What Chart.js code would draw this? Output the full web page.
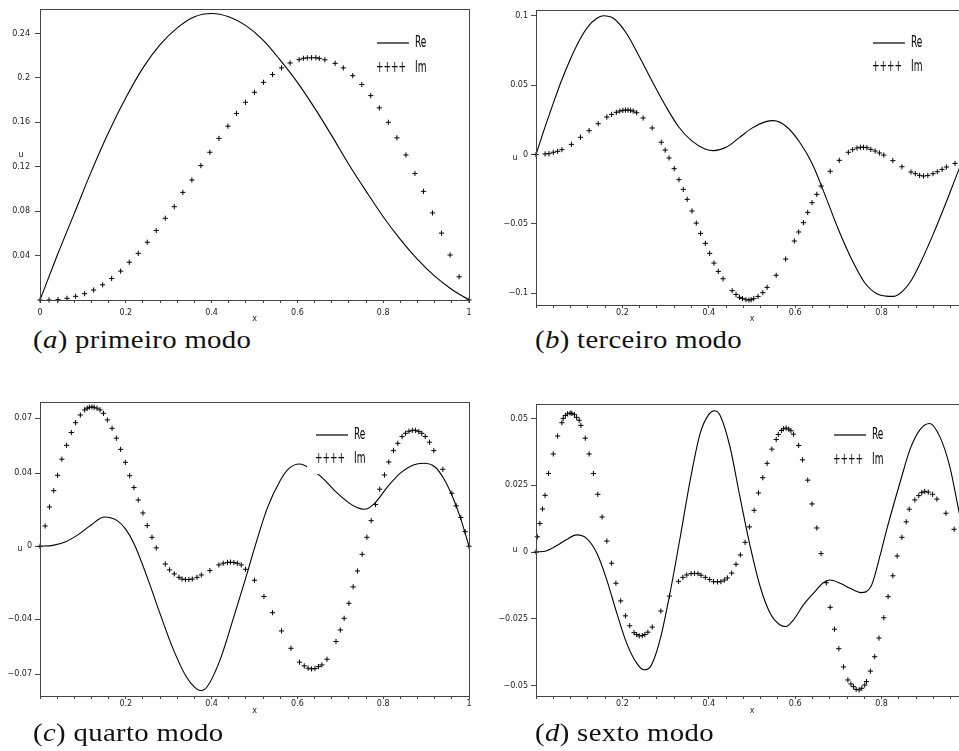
<!DOCTYPE html>
<html>
<head>
<meta charset="utf-8">
<script src="https://cdn.jsdelivr.net/npm/chart.js@4.4.0/dist/chart.umd.min.js"></script>
<style>
  html, body { margin: 0; padding: 0; background: #fff; overflow: hidden; }
  #page { position: relative; width: 959px; height: 751px; overflow: hidden; background: #fff; }
  #page canvas { position: absolute; }
  .caption { position: absolute; font-family: "Liberation Serif", serif; font-size: 25px; letter-spacing: 0.3px; line-height: 25px; color: #111; white-space: nowrap; transform: scaleX(1.15); transform-origin: left top; }
</style>
</head>
<body>
<div id="page">
  <canvas id="chartA" width="480" height="326" style="left:0;top:0"></canvas>
  <canvas id="chartB" width="500" height="326" style="left:480px;top:0"></canvas>
  <canvas id="chartC" width="480" height="346" style="left:0;top:380px"></canvas>
  <canvas id="chartD" width="500" height="346" style="left:480px;top:380px"></canvas>
  <div class="caption" style="left:33px;top:327px">(<i>a</i>) primeiro modo</div>
  <div class="caption" style="left:535px;top:327px">(<i>b</i>) terceiro modo</div>
  <div class="caption" style="left:33px;top:720px">(<i>c</i>) quarto modo</div>
  <div class="caption" style="left:535px;top:720px">(<i>d</i>) sexto modo</div>
</div>
<script>
// (a) primeiro modo
const reAx = [0, 0.04, 0.08, 0.12, 0.16, 0.2, 0.24, 0.28, 0.32, 0.36, 0.4, 0.44, 0.48, 0.52, 0.56, 0.6, 0.64, 0.68, 0.72, 0.76, 0.8, 0.84, 0.88, 0.92, 0.96, 1];
const reAy = [0, 0.040, 0.078, 0.116, 0.151, 0.182, 0.209, 0.230, 0.245, 0.255, 0.258, 0.255, 0.247, 0.234, 0.216, 0.196, 0.173, 0.148, 0.122, 0.098, 0.075, 0.0545, 0.0365, 0.0215, 0.0095, 0];
const imAx = [0, 0.021, 0.042, 0.063, 0.083, 0.104, 0.125, 0.146, 0.167, 0.188, 0.208, 0.229, 0.25, 0.271, 0.292, 0.313, 0.333, 0.354, 0.375, 0.396, 0.417, 0.438, 0.458, 0.479, 0.5, 0.521, 0.542, 0.563, 0.583, 0.604, 0.614, 0.623, 0.633, 0.643, 0.651, 0.664, 0.688, 0.707, 0.729, 0.75, 0.771, 0.791, 0.812, 0.832, 0.853, 0.874, 0.894, 0.915, 0.936, 0.956, 0.977, 1];
const imAy = [0, 0, 0.0003, 0.0015, 0.0033, 0.0057, 0.009, 0.0137, 0.0194, 0.026, 0.034, 0.042, 0.052, 0.0626, 0.0736, 0.084, 0.0969, 0.108, 0.121, 0.133, 0.1455, 0.1565, 0.168, 0.178, 0.187, 0.196, 0.203, 0.209, 0.2134, 0.2164, 0.2176, 0.218, 0.2181, 0.2181, 0.2175, 0.2163, 0.2131, 0.209, 0.202, 0.194, 0.184, 0.173, 0.160, 0.146, 0.1306, 0.1139, 0.0978, 0.0784, 0.0602, 0.0405, 0.0209, 0];

// (b) terceiro modo
const reBx = [0, 0.02, 0.04, 0.06, 0.08, 0.1, 0.12, 0.14, 0.156, 0.18, 0.21, 0.24, 0.27, 0.3, 0.33, 0.36, 0.39, 0.411, 0.44, 0.47, 0.5, 0.53, 0.55, 0.58, 0.61, 0.64, 0.67, 0.7, 0.73, 0.76, 0.79, 0.81, 0.828, 0.85, 0.87, 0.89, 0.92, 0.95, 0.98, 1];
const reBy = [0, 0.019, 0.037, 0.054, 0.069, 0.082, 0.092, 0.098, 0.100, 0.098, 0.087, 0.070, 0.052, 0.035, 0.020, 0.010, 0.0042, 0.0028, 0.0052, 0.012, 0.019, 0.0235, 0.0244, 0.020, 0.009, -0.007, -0.030, -0.054, -0.075, -0.092, -0.1005, -0.102, -0.1022, -0.098, -0.090, -0.078, -0.057, -0.034, -0.010, 0.004];
const imBx = [0, 0.021, 0.030, 0.040, 0.050, 0.060, 0.082, 0.103, 0.123, 0.144, 0.164, 0.175, 0.186, 0.194, 0.201, 0.207, 0.213, 0.219, 0.225, 0.233, 0.248, 0.269, 0.290, 0.299, 0.308, 0.320, 0.331, 0.341, 0.350, 0.361, 0.371, 0.381, 0.392, 0.402, 0.412, 0.422, 0.433, 0.454, 0.463, 0.471, 0.478, 0.486, 0.493, 0.498, 0.504, 0.514, 0.525, 0.535, 0.556, 0.578, 0.598, 0.608, 0.619, 0.629, 0.639, 0.650, 0.660, 0.681, 0.702, 0.723, 0.733, 0.743, 0.751, 0.758, 0.766, 0.775, 0.785, 0.795, 0.805, 0.826, 0.847, 0.868, 0.878, 0.888, 0.897, 0.907, 0.919, 0.929, 0.940, 0.950, 0.970, 1];
const imBy = [0, 0.0004, 0.0006, 0.0016, 0.0023, 0.0035, 0.0073, 0.0124, 0.0172, 0.0222, 0.0270, 0.0289, 0.0304, 0.0313, 0.0318, 0.0320, 0.0320, 0.0318, 0.0313, 0.0301, 0.0263, 0.0191, 0.0088, 0.0032, -0.0025, -0.0102, -0.0181, -0.0251, -0.0323, -0.0407, -0.0494, -0.0568, -0.0640, -0.0712, -0.0782, -0.0842, -0.0895, -0.0981, -0.1008, -0.1029, -0.1038, -0.1046, -0.1048, -0.1046, -0.1038, -0.1022, -0.0995, -0.0957, -0.0870, -0.0753, -0.0623, -0.0558, -0.0491, -0.0417, -0.0347, -0.0287, -0.0227, -0.0121, -0.0042, 0.0016, 0.0035, 0.0047, 0.0052, 0.0052, 0.0049, 0.0037, 0.0025, 0.0011, -0.0004, -0.0044, -0.0088, -0.0126, -0.0138, -0.0150, -0.0155, -0.0150, -0.0138, -0.0124, -0.0107, -0.0090, -0.0064, 0];

// (c) quarto modo
const reCx = [0, 0.03, 0.06, 0.09, 0.12, 0.15, 0.18, 0.2, 0.22, 0.25, 0.28, 0.31, 0.34, 0.36, 0.376, 0.39, 0.42, 0.45, 0.48, 0.5, 0.53, 0.56, 0.58, 0.605, 0.63, 0.66, 0.69, 0.72, 0.74, 0.756, 0.78, 0.81, 0.84, 0.87, 0.895, 0.92, 0.94, 0.96, 0.98, 1];
const reCy = [0, 0.0005, 0.0025, 0.0065, 0.0118, 0.016, 0.014, 0.0092, 0.001, -0.017, -0.037, -0.056, -0.071, -0.077, -0.0789, -0.0767, -0.062, -0.040, -0.017, -0.001, 0.021, 0.036, 0.0425, 0.045, 0.0425, 0.037, 0.0297, 0.0237, 0.021, 0.0202, 0.0235, 0.0325, 0.040, 0.0445, 0.0454, 0.0435, 0.0375, 0.028, 0.0155, 0];
const imCx = [0, 0.012, 0.022, 0.032, 0.041, 0.051, 0.062, 0.073, 0.083, 0.094, 0.104, 0.110, 0.115, 0.121, 0.126, 0.133, 0.140, 0.148, 0.157, 0.168, 0.178, 0.188, 0.199, 0.209, 0.219, 0.229, 0.240, 0.250, 0.261, 0.271, 0.292, 0.302, 0.313, 0.324, 0.331, 0.339, 0.347, 0.355, 0.366, 0.376, 0.396, 0.417, 0.427, 0.437, 0.444, 0.452, 0.460, 0.469, 0.479, 0.500, 0.522, 0.542, 0.563, 0.585, 0.605, 0.616, 0.625, 0.633, 0.641, 0.649, 0.657, 0.669, 0.690, 0.700, 0.709, 0.720, 0.730, 0.740, 0.751, 0.762, 0.772, 0.782, 0.792, 0.803, 0.813, 0.824, 0.834, 0.844, 0.852, 0.860, 0.868, 0.875, 0.883, 0.890, 0.898, 0.908, 0.918, 0.939, 0.960, 0.970, 0.981, 0.991, 1];
const imCy = [0, 0.0111, 0.0215, 0.0304, 0.0388, 0.0476, 0.0552, 0.0622, 0.0676, 0.0718, 0.0746, 0.0755, 0.0760, 0.0762, 0.0760, 0.0755, 0.0746, 0.0727, 0.0691, 0.0645, 0.0591, 0.0530, 0.0459, 0.0386, 0.0321, 0.0253, 0.0182, 0.0113, 0.0049, -0.0009, -0.0097, -0.0129, -0.0151, -0.0170, -0.0179, -0.0182, -0.0182, -0.0179, -0.0170, -0.0157, -0.0133, -0.0102, -0.0093, -0.0089, -0.0087, -0.0089, -0.0093, -0.0102, -0.0126, -0.0186, -0.0275, -0.0363, -0.0463, -0.0558, -0.0634, -0.0654, -0.0667, -0.0671, -0.0669, -0.0658, -0.0649, -0.0618, -0.0521, -0.0458, -0.0394, -0.0312, -0.0222, -0.0135, -0.0044, 0.0049, 0.0140, 0.0228, 0.0312, 0.0390, 0.0461, 0.0523, 0.0563, 0.0600, 0.0618, 0.0629, 0.0634, 0.0634, 0.0627, 0.0618, 0.0600, 0.0569, 0.0523, 0.0421, 0.0290, 0.0221, 0.0157, 0.0080, 0];

// (d) sexto modo
const reDx = [0, 0.025, 0.048, 0.071, 0.094, 0.117, 0.141, 0.164, 0.187, 0.21, 0.233, 0.25, 0.265, 0.287, 0.31, 0.334, 0.357, 0.38, 0.4, 0.413, 0.426, 0.449, 0.472, 0.496, 0.519, 0.542, 0.565, 0.578, 0.596, 0.619, 0.642, 0.665, 0.68, 0.704, 0.727, 0.752, 0.775, 0.797, 0.812, 0.843, 0.866, 0.889, 0.911, 0.935, 0.958, 0.98, 1];
const reDy = [0, 0.0005, 0.0024, 0.0047, 0.0064, 0.0051, -0.0005, -0.0105, -0.0229, -0.0342, -0.0416, -0.0441, -0.0429, -0.0329, -0.0155, 0.0057, 0.0269, 0.0444, 0.0515, 0.0529, 0.0512, 0.0394, 0.0207, 0.0020, -0.0130, -0.0229, -0.0273, -0.0279, -0.0254, -0.0198, -0.0155, -0.0115, -0.0105, -0.0117, -0.0136, -0.0152, -0.0130, -0.0010, 0.0085, 0.0262, 0.0385, 0.0458, 0.0481, 0.0431, 0.0319, 0.0145, 0];
const imDx = [0, 0.003, 0.009, 0.015, 0.021, 0.029, 0.040, 0.050, 0.060, 0.063, 0.068, 0.073, 0.079, 0.083, 0.089, 0.094, 0.100, 0.104, 0.114, 0.123, 0.133, 0.143, 0.153, 0.164, 0.175, 0.185, 0.196, 0.207, 0.217, 0.227, 0.233, 0.239, 0.246, 0.252, 0.259, 0.269, 0.289, 0.309, 0.330, 0.340, 0.349, 0.359, 0.367, 0.375, 0.382, 0.392, 0.402, 0.411, 0.420, 0.428, 0.436, 0.443, 0.453, 0.463, 0.473, 0.484, 0.494, 0.505, 0.515, 0.525, 0.535, 0.546, 0.556, 0.561, 0.568, 0.573, 0.579, 0.585, 0.590, 0.596, 0.608, 0.617, 0.629, 0.639, 0.650, 0.660, 0.672, 0.681, 0.691, 0.701, 0.712, 0.722, 0.729, 0.735, 0.741, 0.748, 0.754, 0.761, 0.765, 0.774, 0.784, 0.794, 0.805, 0.815, 0.826, 0.836, 0.847, 0.857, 0.864, 0.877, 0.886, 0.893, 0.900, 0.908, 0.918, 0.928, 0.949, 0.968, 1];
const imDy = [0, 0.0057, 0.0107, 0.0161, 0.0212, 0.0294, 0.0367, 0.0434, 0.0484, 0.0500, 0.0511, 0.0517, 0.0520, 0.0519, 0.0514, 0.0504, 0.0493, 0.0474, 0.0426, 0.0367, 0.0294, 0.0216, 0.0131, 0.0041, -0.0042, -0.0117, -0.0183, -0.0239, -0.0276, -0.0302, -0.0309, -0.0314, -0.0313, -0.0309, -0.0300, -0.0281, -0.0221, -0.0165, -0.0110, -0.0095, -0.0086, -0.0081, -0.0080, -0.0081, -0.0087, -0.0095, -0.0103, -0.0111, -0.0112, -0.0111, -0.0105, -0.0097, -0.0079, -0.0046, -0.0011, 0.0036, 0.0094, 0.0156, 0.0221, 0.0278, 0.0332, 0.0385, 0.0421, 0.0440, 0.0455, 0.0461, 0.0464, 0.0460, 0.0454, 0.0441, 0.0399, 0.0345, 0.0269, 0.0180, 0.0090, -0.0006, -0.0115, -0.0207, -0.0289, -0.0362, -0.0430, -0.0479, -0.0494, -0.0504, -0.0514, -0.0516, -0.0510, -0.0498, -0.0485, -0.0446, -0.0392, -0.0322, -0.0246, -0.0167, -0.0089, -0.0015, 0.0055, 0.0113, 0.0160, 0.0195, 0.0211, 0.0222, 0.0227, 0.0224, 0.0216, 0.0198, 0.0145, 0.0085, 0];

// ticks
const xTicks = [0, 0.04, 0.08, 0.12, 0.16, 0.2, 0.24, 0.28, 0.32, 0.36, 0.4, 0.44, 0.48, 0.52, 0.56, 0.6, 0.64, 0.68, 0.72, 0.76, 0.8, 0.84, 0.88, 0.92, 0.96, 1];
const xLabelValuesA = [0, 0.2, 0.4, 0.6, 0.8, 1];
const xLabelsA = ['0', '0.2', '0.4', '0.6', '0.8', '1'];
const xLabelValuesB = [0.2, 0.4, 0.6, 0.8];
const xLabelsB = ['0.2', '0.4', '0.6', '0.8'];
const xLabelValuesC = [0.2, 0.4, 0.6, 0.8, 1];
const xLabelsC = ['0.2', '0.4', '0.6', '0.8', '1'];
const yTicksA = [0.04, 0.08, 0.12, 0.16, 0.2, 0.24];
const yLabelsA = ['0.04', '0.08', '0.12', '0.16', '0.2', '0.24'];
const yTicksB = [-0.1, -0.05, 0, 0.05, 0.1];
const yLabelsB = ['\u22120.1', '\u22120.05', '0', '0.05', '0.1'];
const yTicksC = [-0.07, -0.04, 0, 0.04, 0.07];
const yLabelsC = ['\u22120.07', '\u22120.04', '0', '0.04', '0.07'];
const yTicksD = [-0.05, -0.025, 0, 0.025, 0.05];
const yLabelsD = ['\u22120.05', '\u22120.025', '0', '0.025', '0.05'];

const tickFont = { family: 'DejaVu Sans', size: 8, lineHeight: 1 };

function pairs(xs, ys) {
  return xs.map((x, i) => ({ x: x, y: ys[i] }));
}

function narrowText(ctx, text, x, y) {
  ctx.save();
  ctx.translate(x, y);
  ctx.scale(0.6, 1);
  ctx.fillText(text, 0, 0);
  ctx.restore();
}

const modeDecor = {
  id: 'modeDecor',
  afterDatasetsDraw(chart, args, o) {
    const ctx = chart.ctx;
    ctx.save();
    // legend box is opaque, like the original
    ctx.fillStyle = '#fff';
    ctx.fillRect(o.lx - 9, o.ly - 15, 72, o.ly2 - o.ly + 30);
    ctx.strokeStyle = '#000';
    ctx.lineWidth = 1.2;
    ctx.beginPath();
    ctx.moveTo(o.lx, o.ly);
    ctx.lineTo(o.lx + 32, o.ly);
    ctx.stroke();
    ctx.fillStyle = '#000';
    ctx.font = '15px "DejaVu Sans"';
    ctx.textBaseline = 'middle';
    narrowText(ctx, 'Re', o.lx + 38, o.ly);
    narrowText(ctx, '++++', o.lx - 1, o.ly2);
    narrowText(ctx, 'Im', o.lx + 38, o.ly2);
    ctx.restore();
  },
  afterDraw(chart, args, o) {
    const ctx = chart.ctx;
    const a = chart.chartArea;
    ctx.save();
    ctx.strokeStyle = '#444';
    ctx.lineWidth = 1;
    ctx.strokeRect(Math.round(a.left) + 0.5, Math.round(a.top) + 0.5, Math.round(a.right - a.left), Math.round(a.bottom - a.top));
    ctx.fillStyle = '#222';
    ctx.font = '8px "DejaVu Sans"';
    ctx.textAlign = 'center';
    ctx.textBaseline = 'middle';
    ctx.fillText('u', a.left - o.uOff, (a.top + a.bottom) / 2);
    ctx.fillText('x', (a.left + a.right) / 2, a.bottom + o.xOff);
    ctx.restore();
  }
};

function makePanel(p) {
  return new Chart(document.getElementById(p.id), {
    type: 'scatter',
    data: {
      datasets: [
        {
          label: 'Re',
          data: pairs(p.reX, p.reY),
          showLine: true,
          pointRadius: 0,
          borderColor: '#000',
          borderWidth: 1.1,
          cubicInterpolationMode: 'monotone',
          order: 2
        },
        {
          label: 'Im',
          data: pairs(p.imX, p.imY),
          showLine: false,
          pointStyle: 'cross',
          pointRadius: 2.6,
          borderColor: '#000',
          borderWidth: 1,
          clip: 4,
          order: 1
        }
      ]
    },
    options: {
      responsive: false,
      animation: false,
      events: [],
      layout: { padding: { top: p.padTop, right: p.padRight, left: 0, bottom: 0 } },
      scales: {
        x: {
          type: 'linear',
          min: 0,
          max: 1,
          afterFit: s => { s.height = p.xH; },
          afterBuildTicks: s => { s.ticks = xTicks.map(v => ({ value: v })); },
          ticks: {
            autoSkip: false,
            maxRotation: 0,
            padding: p.xPad,
            font: tickFont,
            color: '#222',
            callback: v => {
              const i = p.xLabelValues.findIndex(t => Math.abs(t - v) < 1e-9);
              return i < 0 ? '' : p.xLabels[i];
            }
          },
          grid: { drawOnChartArea: false, tickLength: 3, color: '#444' },
          border: { display: false }
        },
        y: {
          type: 'linear',
          min: p.yMin,
          max: p.yMax,
          afterFit: s => { s.width = p.yW; },
          afterBuildTicks: s => { s.ticks = p.yTicks.map(v => ({ value: v })); },
          ticks: {
            autoSkip: false,
            padding: p.yPad,
            font: tickFont,
            color: '#222',
            callback: (v, i) => p.yLabels[i]
          },
          grid: { drawOnChartArea: false, tickLength: 5, color: '#444' },
          border: { display: false }
        }
      },
      plugins: {
        legend: { display: false },
        tooltip: { enabled: false },
        modeDecor: p.decor
      }
    },
    plugins: [modeDecor]
  });
}

makePanel({
  id: 'chartA', reX: reAx, reY: reAy, imX: imAx, imY: imAy,
  padTop: 5, padRight: 11, yW: 40, xH: 26, xPad: 6, yPad: 5,
  yMin: 0, yMax: 0.262, yTicks: yTicksA, yLabels: yLabelsA,
  xLabelValues: xLabelValuesA, xLabels: xLabelsA,
  decor: { lx: 377, ly: 43, ly2: 68, uOff: 19, xOff: 19 }
});
makePanel({
  id: 'chartB', reX: reBx, reY: reBy, imX: imBx, imY: imBy,
  padTop: 10, padRight: 12, yW: 56, xH: 21, xPad: 1, yPad: 3,
  yMin: -0.1084, yMax: 0.1041, yTicks: yTicksB, yLabels: yLabelsB,
  xLabelValues: xLabelValuesB, xLabels: xLabelsB,
  decor: { lx: 393, ly: 43, ly2: 67, uOff: 21, xOff: 14 }
});
makePanel({
  id: 'chartC', reX: reCx, reY: reCy, imX: imCx, imY: imCy,
  padTop: 22, padRight: 11, yW: 40, xH: 30, xPad: 1, yPad: 3,
  yMin: -0.0819, yMax: 0.0789, yTicks: yTicksC, yLabels: yLabelsC,
  xLabelValues: xLabelValuesC, xLabels: xLabelsC,
  decor: { lx: 316, ly: 55, ly2: 79, uOff: 20, xOff: 15 }
});
makePanel({
  id: 'chartD', reX: reDx, reY: reDy, imX: imDx, imY: imDy,
  padTop: 24, padRight: 12, yW: 56, xH: 30, xPad: 1, yPad: 3,
  yMin: -0.0539, yMax: 0.0554, yTicks: yTicksD, yLabels: yLabelsD,
  xLabelValues: xLabelValuesB, xLabels: xLabelsB,
  decor: { lx: 354, ly: 55, ly2: 80, uOff: 21, xOff: 15 }
});
</script>
</body>
</html>
